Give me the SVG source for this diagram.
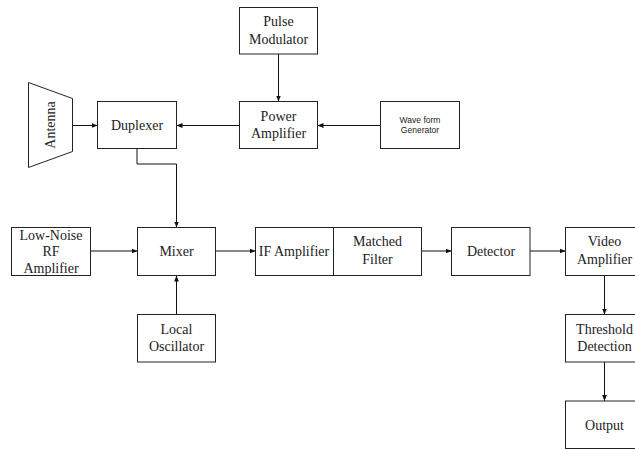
<svg xmlns="http://www.w3.org/2000/svg" width="635" height="449" viewBox="0 0 635 449">
<style>
.b{fill:#fff;stroke:#222;stroke-width:1}
.t{font-family:"Liberation Serif","Times New Roman",serif;font-size:14px;fill:#222;text-anchor:middle}
.s{font-family:"Liberation Sans",Arial,sans-serif;font-size:8.5px;fill:#222;text-anchor:middle}
.c{fill:none;stroke:#111;stroke-width:1}
</style>
<defs>
<marker id="a" viewBox="0 0 10 10" refX="10" refY="5" markerWidth="6" markerHeight="6" markerUnits="userSpaceOnUse" orient="auto">
<path d="M0,1 L10,5 L0,9 Z" fill="#111"/>
</marker>
</defs>
<rect width="635" height="449" fill="#fff"/>
<g id="connectors">
<path class="c" d="M278.5,54 V101.5" marker-end="url(#a)"/>
<path class="c" d="M239.5,125.5 H176.5" marker-end="url(#a)"/>
<path class="c" d="M380.5,125.5 H317.5" marker-end="url(#a)"/>
<path class="c" d="M72.5,125.5 H97.5" marker-end="url(#a)"/>
<path class="c" d="M137,148.5 V164 H176.5 V227.5" marker-end="url(#a)"/>
<path class="c" d="M90.5,251 H137.5" marker-end="url(#a)"/>
<path class="c" d="M176.5,314.5 V275.5" marker-end="url(#a)"/>
<path class="c" d="M215.5,251 H255.5" marker-end="url(#a)"/>
<path class="c" d="M421.5,251 H451.5" marker-end="url(#a)"/>
<path class="c" d="M530,251 H565.5" marker-end="url(#a)"/>
<path class="c" d="M604.5,275.5 V314.5" marker-end="url(#a)"/>
<path class="c" d="M604.5,362 V401" marker-end="url(#a)"/>
</g>
<g id="pulse-modulator">
<rect class="b" x="239.5" y="7.5" width="78" height="46.5"/>
<text class="t" x="278.5" y="26">Pulse</text>
<text class="t" x="278.5" y="43.5">Modulator</text>
</g>
<g id="power-amplifier">
<rect class="b" x="239.5" y="101.5" width="78" height="47"/>
<text class="t" x="278.5" y="120.5">Power</text>
<text class="t" x="278.5" y="138">Amplifier</text>
</g>
<g id="waveform-generator">
<rect class="b" x="380.5" y="101.5" width="79" height="47"/>
<text class="s" x="420" y="122.5">Wave form</text>
<text class="s" x="420" y="132.5">Generator</text>
</g>
<g id="duplexer">
<rect class="b" x="97.5" y="101.5" width="79" height="47"/>
<text class="t" x="137" y="130">Duplexer</text>
</g>
<g id="antenna">
<path class="b" d="M28.5,82.5 L72.5,98.5 L72.5,151.5 L28.5,167.5 Z"/>
<text class="t" transform="translate(55,125) rotate(-90)">Antenna</text>
</g>
<g id="low-noise-rf-amplifier">
<rect class="b" x="11.5" y="227.5" width="79" height="48"/>
<text class="t" x="51" y="240">Low-Noise</text>
<text class="t" x="51" y="256">RF</text>
<text class="t" x="51" y="272.5">Amplifier</text>
</g>
<g id="mixer">
<rect class="b" x="137.5" y="227.5" width="78" height="48"/>
<text class="t" x="176.5" y="256">Mixer</text>
</g>
<g id="local-oscillator">
<rect class="b" x="137.5" y="314.5" width="78" height="47.5"/>
<text class="t" x="176.5" y="333.5">Local</text>
<text class="t" x="176.5" y="351">Oscillator</text>
</g>
<g id="if-amplifier">
<rect class="b" x="255.5" y="227.5" width="78" height="48"/>
<text class="t" x="294" y="256">IF Amplifier</text>
</g>
<g id="matched-filter">
<rect class="b" x="333.5" y="227.5" width="88" height="48"/>
<text class="t" x="377.5" y="246">Matched</text>
<text class="t" x="377.5" y="263.5">Filter</text>
</g>
<g id="detector">
<rect class="b" x="451.5" y="227.5" width="78.5" height="48"/>
<text class="t" x="491" y="256">Detector</text>
</g>
<g id="video-amplifier">
<rect class="b" x="565.5" y="227.5" width="78" height="48"/>
<text class="t" x="604.5" y="246">Video</text>
<text class="t" x="604.5" y="263.5">Amplifier</text>
</g>
<g id="threshold-detection">
<rect class="b" x="565.5" y="314.5" width="78" height="47.5"/>
<text class="t" x="604.5" y="333.5">Threshold</text>
<text class="t" x="604.5" y="351">Detection</text>
</g>
<g id="output">
<rect class="b" x="565.5" y="401" width="78" height="47.5"/>
<text class="t" x="604.5" y="429.5">Output</text>
</g>
</svg>
